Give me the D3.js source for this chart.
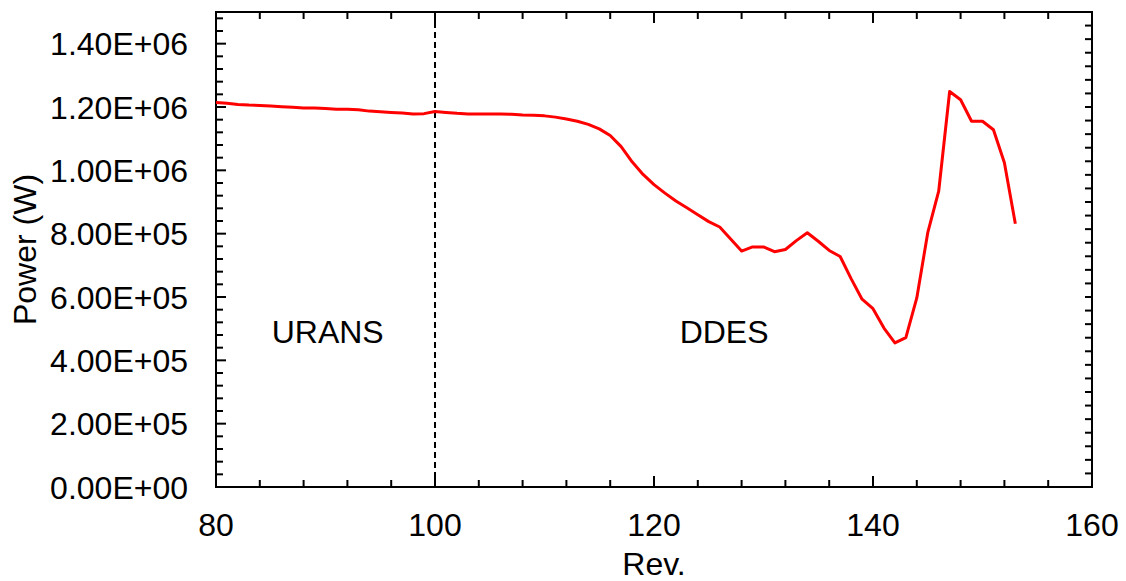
<!DOCTYPE html>
<html>
<head>
<meta charset="utf-8">
<script src="https://cdn.jsdelivr.net/npm/d3@7"></script>
<style>
  html, body { margin: 0; padding: 0; background: #fff; }
  svg { display: block; font-family: "Liberation Sans", Arial, sans-serif; }
</style>
</head>
<body>
<svg id="chart" width="1126" height="581"></svg>
<script>
// Revolution number and power output (W)
const revs = [80, 81, 82, 83, 84, 85, 86, 87, 88, 89, 90, 91, 92, 93, 94, 95, 96, 97, 98, 99,
  100, 101, 102, 103, 104, 105, 106, 107, 108, 109, 110, 111, 112, 113, 114, 115, 116, 117, 118, 119,
  120, 121, 122, 123, 124, 125, 126, 127, 128, 129, 130, 131, 132, 133, 134, 135, 136, 137, 138, 139,
  140, 141, 142, 143, 144, 145, 146, 147, 148, 149, 150, 151, 152, 153];
const power = [1.214e6, 1.212e6, 1.208e6, 1.206e6, 1.205e6, 1.203e6, 1.201e6, 1.199e6, 1.197e6, 1.197e6,
  1.195e6, 1.193e6, 1.193e6, 1.191e6, 1.187e6, 1.185e6, 1.183e6, 1.181e6, 1.178e6, 1.179e6,
  1.186e6, 1.183e6, 1.180e6, 1.178e6, 1.178e6, 1.178e6, 1.178e6, 1.177e6, 1.175e6, 1.174e6,
  1.172e6, 1.168e6, 1.162e6, 1.155e6, 1.145e6, 1.131e6, 1.110e6, 1.075e6, 1.027e6, 0.987e6,
  0.955e6, 0.928e6, 0.903e6, 0.882e6, 0.860e6, 0.838e6, 0.821e6, 0.783e6, 0.745e6, 0.758e6,
  0.758e6, 0.743e6, 0.750e6, 0.778e6, 0.803e6, 0.776e6, 0.747e6, 0.728e6, 0.658e6, 0.593e6,
  0.563e6, 0.502e6, 0.455e6, 0.472e6, 0.597e6, 0.803e6, 0.934e6, 1.249e6, 1.223e6, 1.155e6,
  1.155e6, 1.128e6, 1.024e6, 0.831e6];

const xTicks = [80, 100, 120, 140, 160];
const yTicks = [0, 2e5, 4e5, 6e5, 8e5, 1.0e6, 1.2e6, 1.4e6];
const switchRev = 100;
const regions = [{ label: "URANS", rev: 90.2 }, { label: "DDES", rev: 126.4 }];

const svg = d3.select("#chart");
const margin = { left: 216, right: 34, top: 12, bottom: 94 };
const W = 1126, H = 581;

const x = d3.scaleLinear().domain([80, 160]).range([margin.left, W - margin.right]);
const y = d3.scaleLinear().domain([0, 1.5e6]).range([H - margin.bottom, margin.top]);

const x0 = x.range()[0], x1 = x.range()[1];
const yb = y.range()[0], yt = y.range()[1];

// scientific labels like 1.40E+06
const fmt = v => {
  const s = v.toExponential(2).toUpperCase();
  return s.replace(/E([+-])(\d)$/, "E$10$2");
};

// Minor tick positions
const xMinor = d3.range(80, 160.001, 4);
const yMinor = d3.range(0, 1.5e6, 4e4);
const yRightMinor = d3.range(0, 1.5e6, 1.5e6 / 35);

const ax = svg.append("g").attr("stroke", "#000").attr("stroke-width", 2);

// bottom and top ticks (inward)
xMinor.forEach(v => {
  const major = xTicks.includes(v);
  const len = major ? 11 : 7;
  ax.append("line").attr("x1", x(v)).attr("x2", x(v)).attr("y1", yb).attr("y2", yb - len);
  ax.append("line").attr("x1", x(v)).attr("x2", x(v)).attr("y1", yt).attr("y2", yt + len);
});
// left ticks
yMinor.forEach(v => {
  const major = yTicks.some(t => Math.abs(t - v) < 1);
  const len = major ? 10 : 7;
  ax.append("line").attr("x1", x0).attr("x2", x0 + len).attr("y1", y(v)).attr("y2", y(v));
});
// right ticks
yRightMinor.forEach(v => {
  ax.append("line").attr("x1", x1).attr("x2", x1 - 7).attr("y1", y(v)).attr("y2", y(v));
});

// frame
svg.append("rect")
  .attr("x", x0).attr("y", yt).attr("width", x1 - x0).attr("height", yb - yt)
  .attr("fill", "none").attr("stroke", "#000").attr("stroke-width", 2);

// tick labels
svg.append("g").selectAll("text").data(xTicks).join("text")
  .attr("x", d => x(d)).attr("y", yb + 49)
  .attr("text-anchor", "middle").attr("font-size", 32).attr("fill", "#000")
  .text(d => d);

svg.append("g").selectAll("text").data(yTicks).join("text")
  .attr("x", 188).attr("y", d => y(d)).attr("dy", "0.36em")
  .attr("text-anchor", "end").attr("font-size", 32).attr("fill", "#000")
  .text(d => fmt(d));

// axis titles
svg.append("text").attr("x", (x0 + x1) / 2).attr("y", 575)
  .attr("text-anchor", "middle").attr("font-size", 32).text("Rev.");
svg.append("text")
  .attr("transform", `translate(36, ${(yb + yt) / 2}) rotate(-90)`)
  .attr("text-anchor", "middle").attr("font-size", 32).text("Power (W)");

// URANS / DDES switch
svg.append("line")
  .attr("x1", x(switchRev)).attr("x2", x(switchRev)).attr("y1", yt).attr("y2", yb)
  .attr("stroke", "#000").attr("stroke-width", 2).attr("stroke-dasharray", "6,4");

svg.append("g").selectAll("text").data(regions).join("text")
  .attr("x", d => x(d.rev)).attr("y", 343)
  .attr("text-anchor", "middle").attr("font-size", 32).text(d => d.label);

// power curve
const line = d3.line().x((d, i) => x(revs[i])).y(d => y(d));
svg.append("path").datum(power)
  .attr("d", line).attr("fill", "none").attr("stroke", "#ff0000")
  .attr("stroke-width", 3).attr("stroke-linejoin", "round");
</script>
</body>
</html>
